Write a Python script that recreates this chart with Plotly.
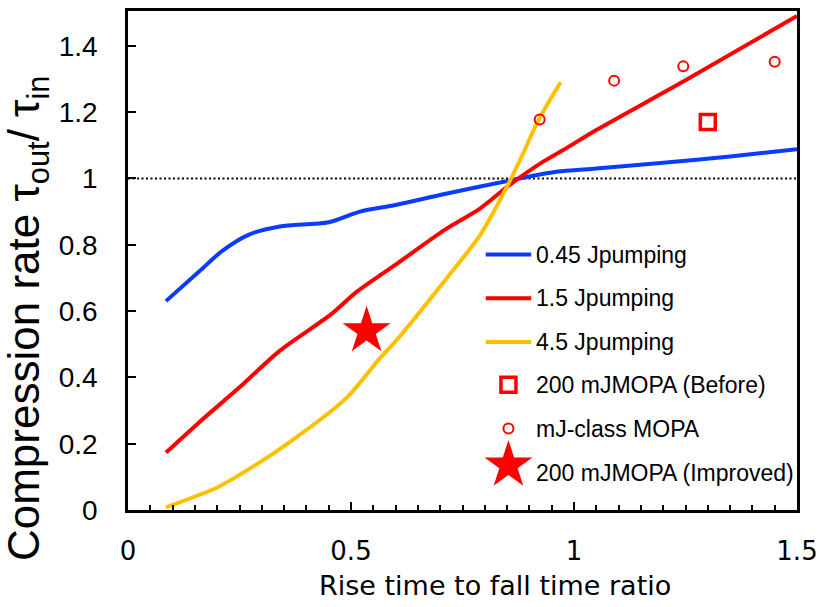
import plotly.graph_objects as go

# Simulated compression rate vs. rise/fall time ratio for three pump energies
x_045 = [0.085, 0.16, 0.21, 0.27, 0.34, 0.45, 0.52, 0.60, 0.71, 0.86, 0.96, 1.05, 1.20, 1.35, 1.50]
y_045 = [0.63, 0.72, 0.78, 0.83, 0.855, 0.868, 0.90, 0.92, 0.953, 0.995, 1.02, 1.03, 1.047, 1.066, 1.088]

x_15 = [0.085, 0.16, 0.25, 0.34, 0.455, 0.51, 0.60, 0.71, 0.79, 0.855, 0.93, 0.975, 1.05, 1.25, 1.50]
y_15 = [0.173, 0.265, 0.37, 0.48, 0.59, 0.655, 0.74, 0.845, 0.91, 0.98, 1.05, 1.085, 1.146, 1.296, 1.49]

x_45 = [0.085, 0.20, 0.255, 0.345, 0.49, 0.565, 0.60, 0.715, 0.79, 0.84, 0.88, 0.92, 0.97]
y_45 = [0.008, 0.068, 0.11, 0.188, 0.338, 0.458, 0.509, 0.70, 0.83, 0.95, 1.058, 1.175, 1.29]

# Measured points
x_before, y_before = [1.30], [1.17]
x_mj = [0.923, 1.09, 1.245, 1.45]
y_mj = [1.178, 1.295, 1.338, 1.352]
x_improved, y_improved = [0.535], [0.54]

# Reference level
y_unity = 1.0

series_names = ["0.45 Jpumping", "1.5 Jpumping", "4.5 Jpumping",
                "200 mJMOPA (Before)", "mJ-class MOPA", "200 mJMOPA (Improved)"]

BLUE = "#0a3cff"
RED = "#ff0000"
YELLOW = "#ffc000"

fig = go.Figure()

for xs, ys, col, name in [(x_045, y_045, BLUE, series_names[0]),
                          (x_15, y_15, RED, series_names[1]),
                          (x_45, y_45, YELLOW, series_names[2])]:
    fig.add_trace(go.Scatter(x=xs, y=ys, mode="lines", name=name,
                             line=dict(color=col, width=4, shape="spline", smoothing=0.8),
                             showlegend=False))

fig.add_trace(go.Scatter(x=x_before, y=y_before, mode="markers", name=series_names[3],
                         marker=dict(symbol="square-open", size=15, color=RED, line=dict(width=3.5)),
                         showlegend=False))
fig.add_trace(go.Scatter(x=x_mj, y=y_mj, mode="markers", name=series_names[4],
                         marker=dict(symbol="circle-open", size=10, color=RED, line=dict(width=2)),
                         showlegend=False))
fig.add_trace(go.Scatter(x=x_improved, y=y_improved, mode="markers", name=series_names[5],
                         marker=dict(symbol="star", size=36, color=RED, line=dict(width=0)),
                         showlegend=False))

fig.add_shape(type="line", xref="x", yref="y", x0=0, x1=1.5, y0=y_unity, y1=y_unity,
              line=dict(color="black", width=2, dash="2px,2.5px"), layer="below")

# Hand-built legend on a pixel-scaled overlay axis (origin = top-left of the plot area)
PW, PH = 677, 502
key_x0, key_x1, key_xc, text_x = 362, 408, 385, 411
row_y = [245, 289, 333, 376, 420, 457]
text_y = [245, 289, 333, 376.5, 420.7, 464.5]

for i, col in enumerate([BLUE, RED, YELLOW]):
    fig.add_trace(go.Scatter(x=[key_x0, key_x1], y=[row_y[i], row_y[i]], mode="lines",
                             xaxis="x2", yaxis="y2", showlegend=False, hoverinfo="skip",
                             line=dict(color=col, width=4)))
fig.add_trace(go.Scatter(x=[key_xc], y=[row_y[3]], mode="markers", xaxis="x2", yaxis="y2",
                         showlegend=False, hoverinfo="skip",
                         marker=dict(symbol="square-open", size=15, color=RED, line=dict(width=3.5))))
fig.add_trace(go.Scatter(x=[key_xc], y=[row_y[4]], mode="markers", xaxis="x2", yaxis="y2",
                         showlegend=False, hoverinfo="skip",
                         marker=dict(symbol="circle-open", size=10, color=RED, line=dict(width=2))))
fig.add_trace(go.Scatter(x=[key_xc], y=[row_y[5]], mode="markers", xaxis="x2", yaxis="y2",
                         showlegend=False, hoverinfo="skip", cliponaxis=False,
                         marker=dict(symbol="star", size=36, color=RED, line=dict(width=0))))

for name, ty in zip(series_names, text_y):
    fig.add_annotation(x=text_x, y=ty, xref="x2", yref="y2", text=name, showarrow=False,
                       xanchor="left", yanchor="middle",
                       font=dict(family="Liberation Sans, Arial", size=23, color="black"))

# Axis titles
fig.add_annotation(x=-0.150, y=0.384, xref="paper", yref="paper", textangle=-90,
                   text="Compression rate τ<sub>out</sub>/ τ<sub>in</sub>", showarrow=False,
                   xanchor="center", yanchor="middle",
                   font=dict(family="Liberation Sans, Arial", size=44, color="black"))
fig.add_annotation(x=0.549, y=-0.152, xref="paper", yref="paper",
                   text="Rise time to fall time ratio", showarrow=False,
                   xanchor="center", yanchor="middle",
                   font=dict(family="DejaVu Sans", size=27, color="black"))

axis_common = dict(showline=True, linewidth=2.5, linecolor="black", mirror=True,
                   showgrid=False, zeroline=False, ticks="inside", ticklen=8,
                   tickwidth=2, tickcolor="black")

fig.update_layout(
    width=826, height=607,
    margin=dict(l=128, r=21, t=8, b=97),
    plot_bgcolor="white", paper_bgcolor="white",
    showlegend=False,
    xaxis=dict(range=[0, 1.5], tick0=0, dtick=0.5,
               tickfont=dict(family="DejaVu Sans", size=26, color="black"),
               ticklabelstandoff=16,
               minor=dict(dtick=0.05, ticks="inside", ticklen=5, tickwidth=1.5,
                          tickcolor="black", showgrid=False),
               **axis_common),
    yaxis=dict(range=[0, 1.505], tick0=0, dtick=0.2,
               tickfont=dict(family="Liberation Sans, Arial", size=28, color="black"),
               ticklabelstandoff=22,
               **axis_common),
    xaxis2=dict(range=[0, PW], overlaying="x", anchor="y2", visible=False, fixedrange=True),
    yaxis2=dict(range=[PH, 0], overlaying="y", anchor="x2", visible=False, fixedrange=True),
)

fig.write_html("out.html")
